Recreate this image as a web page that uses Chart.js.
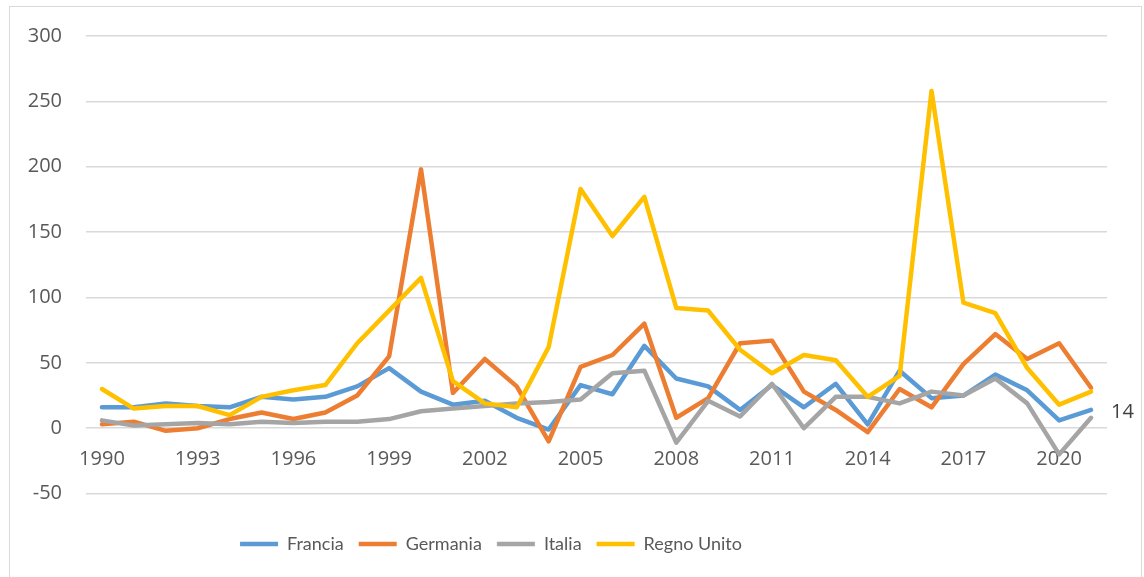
<!DOCTYPE html>
<html>
<head>
<meta charset="utf-8">
<script src="https://cdn.jsdelivr.net/npm/chart.js@4.4.1/dist/chart.umd.min.js"></script>
<style>
  html, body { margin: 0; padding: 0; background: #fff; overflow: hidden; }
  #wrap { position: absolute; left: 0; top: 0; width: 1144px; height: 577px; }
  #frame { position: absolute; left: 9px; top: 6px; width: 1133px; height: 620px;
           border: 1.5px solid #d9d9d9; box-sizing: border-box; pointer-events: none; }
</style>
</head>
<body>
<div id="wrap"><canvas id="chart" width="1144" height="577"></canvas></div>
<div id="frame"></div>
<script>
// Dati
const anni = ['1990','1991','1992','1993','1994','1995','1996','1997','1998','1999',
              '2000','2001','2002','2003','2004','2005','2006','2007','2008','2009',
              '2010','2011','2012','2013','2014','2015','2016','2017','2018','2019',
              '2020','2021'];
const anniVisibili = ['1990','1993','1996','1999','2002','2005','2008','2011','2014','2017','2020'];
const yTicks = [-50, 0, 50, 100, 150, 200, 250, 300];

const francia = [16,16,19,17,16,24,22,24,32,46,28,18,21,8,-1,33,26,63,38,32,14,33,16,34,3,44,23,25,41,29,6,14];
const germania = [3,5,-2,0,7,12,7,12,25,55,198,27,53,32,-10,47,56,80,8,23,65,67,28,14,-3,30,16,49,72,53,65,31];
const italia = [6,2,3,4,3,5,4,5,5,7,13,15,17,19,20,22,42,44,-11,21,9,34,0,24,24,19,28,25,38,19,-20,8];
const regnoUnito = [30,15,17,17,10,24,29,33,65,90,115,36,19,16,62,183,147,177,92,90,60,42,56,52,24,40,258,96,88,46,18,28];

const famiglia = '"Open Sans", "Liberation Sans", sans-serif';
const famigliaLegenda = 'Lato, "Open Sans", sans-serif';
const tickFont = { family: famiglia, size: 20 };
const legendFont = { family: famigliaLegenda, size: 18 };

function serie(label, data, colore, ordine) {
    return {
        label: label,
        data: data,
        borderColor: colore,
        backgroundColor: colore,
        borderWidth: 4.5,
        borderJoinStyle: 'round',
        borderCapStyle: 'round',
        pointRadius: 0,
        pointHoverRadius: 0,
        tension: 0,
        fill: false,
        order: ordine
    };
}

// Etichetta del valore finale di Francia
const etichettaFinale = {
    id: 'etichettaFinale',
    afterDatasetsDraw(chart) {
        const meta = chart.getDatasetMeta(0);
        const p = meta.data[meta.data.length - 1];
        const ctx = chart.ctx;
        ctx.save();
        ctx.font = '20px ' + famiglia;
        ctx.fillStyle = '#404040';
        ctx.textAlign = 'left';
        ctx.textBaseline = 'middle';
        ctx.fillText(String(francia[francia.length - 1]), p.x + 20, p.y + 2);
        ctx.restore();
    }
};

// Sposta la legenda per centrarla come nell'originale
const spostaLegenda = {
    id: 'spostaLegenda',
    afterLayout(chart) {
        chart.legend.left = 0;
        chart.legend.right = 982;
    }
};

function disegna() {
    const ctx = document.getElementById('chart').getContext('2d');
    new Chart(ctx, {
        type: 'line',
        data: {
            labels: anni,
            datasets: [
                serie('Francia', francia, '#5B9BD5', 4),
                serie('Germania', germania, '#ED7D31', 3),
                serie('Italia', italia, '#A5A5A5', 2),
                serie('Regno Unito', regnoUnito, '#FFC000', 1)
            ]
        },
        options: {
            responsive: false,
            animation: false,
            layout: { padding: { left: 0, top: 35, right: 37, bottom: 14 } },
            scales: {
                x: {
                    type: 'category',
                    position: { y: 0 },
                    offset: true,
                    grid: { display: false, drawTicks: false },
                    border: { display: false },
                    ticks: {
                        autoSkip: false,
                        maxRotation: 0,
                        padding: 19,
                        color: '#595959',
                        font: tickFont,
                        callback: function(value, index) {
                            const a = anni[index];
                            return anniVisibili.includes(a) ? a : '';
                        }
                    }
                },
                y: {
                    min: yTicks[0],
                    max: yTicks[yTicks.length - 1],
                    afterFit: function(scale) { scale.width = 86; },
                    afterBuildTicks: function(scale) {
                        scale.ticks = yTicks.map(v => ({ value: v }));
                    },
                    grid: { color: '#d9d9d9', lineWidth: 1.5, drawTicks: false },
                    border: { display: false },
                    ticks: {
                        padding: 24,
                        color: '#595959',
                        font: tickFont
                    }
                }
            },
            plugins: {
                legend: {
                    position: 'bottom',
                    title: { display: true, text: '', padding: 0, font: { size: 22 } },
                    labels: {
                        usePointStyle: true,
                        pointStyleWidth: 38,
                        pointStyle: 'line',
                        boxHeight: 18,
                        padding: 15,
                        color: '#595959',
                        font: legendFont,
                        sort: (a, b) => a.datasetIndex - b.datasetIndex
                    }
                },
                tooltip: { enabled: false }
            }
        },
        plugins: [etichettaFinale, spostaLegenda]
    });
}

Promise.all([
    document.fonts.load('20px "Open Sans"'),
    document.fonts.load('18px Lato')
]).catch(() => null).then(disegna);
</script>
</body>
</html>
